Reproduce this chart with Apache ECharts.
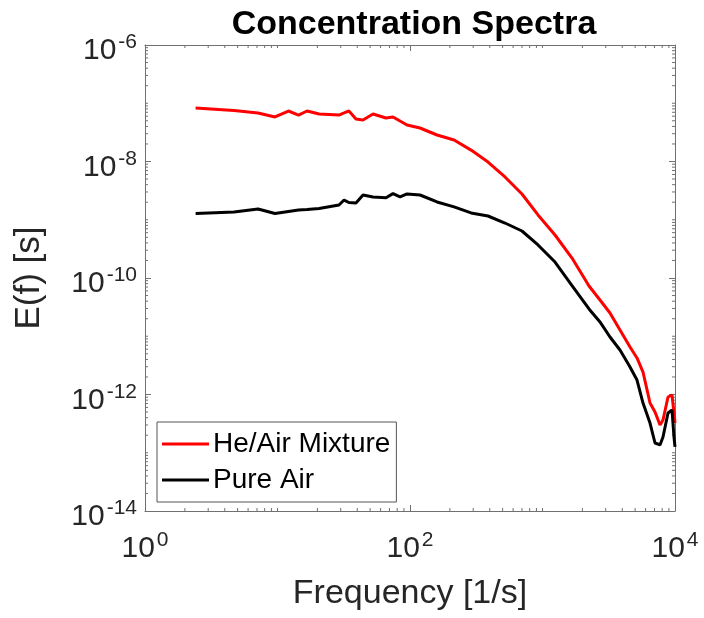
<!DOCTYPE html>
<html>
<head>
<meta charset="utf-8">
<script src="https://cdn.jsdelivr.net/npm/echarts@6/dist/echarts.min.js"></script>
<style>
html,body{margin:0;padding:0;background:#fff;}
#chart{width:704px;height:618px;}
</style>
</head>
<body>
<div id="chart"></div>
<script>
// ---- data ----
var freq = [2.41, 4.70, 7.13, 9.57, 12.1, 14.4, 16.7, 20.6, 29.1, 31.8, 34.6, 39.1, 44.2, 52.6, 65.9, 74.4, 84.1, 94.9,
            119, 160, 215, 289, 388, 521, 700, 925, 1243, 1670, 2244, 2716, 3231, 3845, 4576, 5167, 5735, 6477,
            7066, 7705, 8118, 8856, 9493, 9828, 10000];
var heAir = [8.28e-8, 7.52e-8, 6.81e-8, 5.81e-8, 7.36e-8, 6.28e-8, 7.36e-8, 6.53e-8, 6.28e-8, 6.81e-8, 7.36e-8, 5.37e-8,
             5.16e-8, 6.53e-8, 5.58e-8, 5.81e-8, 4.96e-8, 4.23e-8, 3.76e-8, 2.85e-8, 2.34e-8, 1.57e-8, 9.8e-9, 5.42e-9,
             2.77e-9, 1.21e-9, 5.47e-10, 2.20e-10, 7.29e-11, 4.19e-11, 2.51e-11, 1.28e-11, 6.53e-12, 4.24e-12, 2.43e-12,
             7.14e-13, 5.01e-13, 2.99e-13, 3.65e-13, 9.06e-13, 9.8e-13, 4.81e-13, 3.24e-13];
var pureAir = [1.28e-9, 1.36e-9, 1.53e-9, 1.28e-9, 1.39e-9, 1.47e-9, 1.50e-9, 1.56e-9, 1.79e-9, 2.18e-9, 1.98e-9, 1.94e-9,
               2.66e-9, 2.46e-9, 2.39e-9, 2.81e-9, 2.46e-9, 2.77e-9, 2.66e-9, 2.02e-9, 1.66e-9, 1.31e-9, 1.16e-9, 8.79e-10,
               6.41e-10, 3.69e-10, 1.88e-10, 7.43e-11, 2.94e-11, 1.76e-11, 9.7e-12, 5.81e-12, 2.96e-12, 1.77e-12, 7.14e-13,
               3.24e-13, 1.47e-13, 1.36e-13, 1.86e-13, 4.81e-13, 5.42e-13, 1.86e-13, 1.26e-13];
var seriesNames = ['He/Air Mixture', 'Pure Air'];
var xTickExps = [0, 2, 4];
var yTickExps = [-14, -12, -10, -8, -6];
var titleText = 'Concentration Spectra';
var xName = 'Frequency [1/s]';
var yName = 'E(f) [s]';

// ---- build ----
var FONT = 'Liberation Sans, Arial, Helvetica, sans-serif';
var TXT = '#262626';
var AX = '#707070';
var X_MIN = Math.pow(10, xTickExps[0]), X_MAX = Math.pow(10, xTickExps[xTickExps.length - 1]);
var Y_MIN = Math.pow(10, yTickExps[0]), Y_MAX = Math.pow(10, yTickExps[yTickExps.length - 1]);

function pairs(xs, ys) { return xs.map(function (x, i) { return [x, ys[i]]; }); }

// minor tick positions (2..9 x 10^k) and odd decades
var xMinor = [], yMinor = [];
for (var k = xTickExps[0]; k < xTickExps[xTickExps.length - 1]; k++) {
  for (var m = 2; m <= 10; m++) {
    if (m === 10 && xTickExps.indexOf(k + 1) >= 0) continue;
    xMinor.push(m * Math.pow(10, k));
  }
}
for (var k2 = yTickExps[0]; k2 < yTickExps[yTickExps.length - 1]; k2++) {
  for (var m2 = 2; m2 <= 10; m2++) {
    if (m2 === 10 && yTickExps.indexOf(k2 + 1) >= 0) continue;
    yMinor.push(m2 * Math.pow(10, k2));
  }
}

function fmt(value) {
  var e = Math.round(Math.log10(value));
  return '{b|10}{g|}{s|' + (e < 0 ? '-' + (-e) : e) + '}';
}
var rich = {
  b: { fontSize: 30, lineHeight: 38, color: TXT, fontFamily: FONT },
  g: { width: 2 },
  s: { fontSize: 21, lineHeight: 8, verticalAlign: 'top', color: TXT, fontFamily: FONT }
};

var chart = echarts.init(document.getElementById('chart'), null, { renderer: 'canvas' });

function axisCommon() {
  return {
    axisLine: { show: true, lineStyle: { color: AX, width: 1 } },
    axisTick: { show: true, inside: true, length: 6, lineStyle: { color: AX, width: 1 } },
    splitLine: { show: false }
  };
}

var option = {
  backgroundColor: '#fff',
  animation: false,
  title: {
    text: titleText, left: 409, top: 3, textAlign: 'center',
    textStyle: { fontFamily: FONT, fontSize: 34, fontWeight: 'bold', color: '#000' }
  },
  grid: { left: 145, right: 29, top: 45, bottom: 107, containLabel: false },
  legend: {
    data: seriesNames.map(function (n) { return { name: n, icon: 'rect' }; }),
    orient: 'vertical', left: 157, top: 422,
    backgroundColor: '#fff', borderColor: '#555', borderWidth: 1,
    padding: [8, 6, 8, 5], itemWidth: 47, itemHeight: 3, itemGap: 8,
    textStyle: { fontFamily: FONT, fontSize: 28, color: '#000', lineHeight: 28, padding: [0, 0, 0, -1] }
  },
  xAxis: [
    Object.assign(axisCommon(), {
      type: 'log', logBase: 10, min: X_MIN, max: X_MAX, position: 'bottom', interval: 2,
      axisLabel: { show: true, margin: 19, formatter: fmt, rich: rich },
      name: xName, nameLocation: 'middle', nameGap: 66,
      nameTextStyle: { fontFamily: FONT, fontSize: 34, color: TXT }
    }),
    Object.assign(axisCommon(), {
      type: 'log', logBase: 10, min: X_MIN, max: X_MAX, position: 'top', interval: 2,
      axisLabel: { show: false }
    })
  ],
  yAxis: [
    Object.assign(axisCommon(), {
      type: 'log', logBase: 10, min: Y_MIN, max: Y_MAX, position: 'left', interval: 2,
      axisLabel: { show: true, margin: 8, formatter: fmt, rich: rich, padding: [12, 0, 0, 0] },
      name: yName, nameLocation: 'middle', nameGap: 98,
      nameTextStyle: { fontFamily: FONT, fontSize: 35, color: TXT }
    }),
    Object.assign(axisCommon(), {
      type: 'log', logBase: 10, min: Y_MIN, max: Y_MAX, position: 'right', interval: 2,
      axisLabel: { show: false }
    })
  ],
  series: [
    {
      name: seriesNames[0], type: 'line', data: pairs(freq, heAir),
      showSymbol: false, symbol: 'none', smooth: false,
      lineStyle: { color: '#ff0000', width: 3 }, itemStyle: { color: '#ff0000' }, z: 3
    },
    {
      name: seriesNames[1], type: 'line', data: pairs(freq, pureAir),
      showSymbol: false, symbol: 'none', smooth: false,
      lineStyle: { color: '#000000', width: 3 }, itemStyle: { color: '#000000' }, z: 4
    },
    {
      type: 'custom', silent: true, clip: false, z: 1,
      data: xMinor.map(function (v) { return [v, 0]; }),
      renderItem: function (params, api) {
        var x = api.value(0);
        var pb = api.coord([x, Y_MIN]);
        var pt = api.coord([x, Y_MAX]);
        var st = { stroke: AX, lineWidth: 1 };
        return { type: 'group', children: [
          { type: 'line', shape: { x1: pb[0], y1: pb[1], x2: pb[0], y2: pb[1] - 3 }, style: st },
          { type: 'line', shape: { x1: pt[0], y1: pt[1], x2: pt[0], y2: pt[1] + 3 }, style: st }
        ] };
      }
    },
    {
      type: 'custom', silent: true, clip: false, z: 1,
      data: yMinor.map(function (v) { return [1, v]; }),
      renderItem: function (params, api) {
        var y = api.value(1);
        var pl = api.coord([X_MIN, y]);
        var pr = api.coord([X_MAX, y]);
        var st = { stroke: AX, lineWidth: 1 };
        return { type: 'group', children: [
          { type: 'line', shape: { x1: pl[0], y1: pl[1], x2: pl[0] + 3, y2: pl[1] }, style: st },
          { type: 'line', shape: { x1: pr[0], y1: pr[1], x2: pr[0] - 3, y2: pr[1] }, style: st }
        ] };
      }
    }
  ]
};
chart.setOption(option);
</script>
</body>
</html>
